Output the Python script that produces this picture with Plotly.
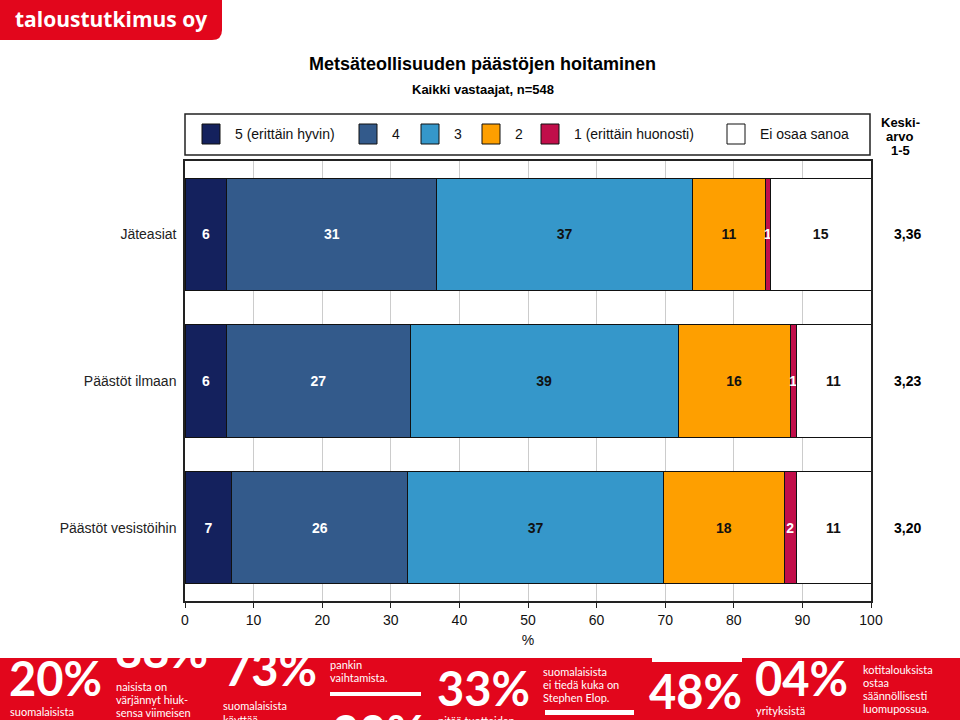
import plotly.graph_objects as go

# ---------------- data ----------------
categories = ["Jäteasiat", "Päästöt ilmaan", "Päästöt vesistöihin"]
v5 = [6.1, 6.1, 6.85]      # 5 (erittäin hyvin)
v4 = [30.6, 26.7, 25.6]    # 4
v3 = [37.3, 39.1, 37.3]    # 3
v2 = [10.6, 16.3, 17.6]    # 2
v1 = [0.75, 0.9, 1.75]     # 1 (erittäin huonosti)
v0 = [14.65, 10.9, 10.9]   # Ei osaa sanoa
means = [3.36, 3.23, 3.20]

series_names = ["5 (erittäin hyvin)", "4", "3", "2", "1 (erittäin huonosti)", "Ei osaa sanoa"]
series_values = [v5, v4, v3, v2, v1, v0]
series_colors = ["#14215d", "#335a8b", "#3597ca", "#fe9f00", "#c10e4a", "#ffffff"]
text_colors = ["#ffffff", "#ffffff", "#111111", "#111111", "#ffffff", "#111111"]

x_ticks = [0, 10, 20, 30, 40, 50, 60, 70, 80, 90, 100]

title = "Metsäteollisuuden päästöjen hoitaminen"
subtitle = "Kaikki vastaajat, n=548"
mean_header_lines = ["Keski-", "arvo", "1-5"]
logo_text = "taloustutkimus oy"

# decorative banner texts (bottom strip)
banner_big = ["20%", "88%", "73%", "20%", "33%", "48%", "04%"]
banner_big_x = [9, 115, 224, 332, 437, 649, 755]
banner_big_y = [684, 656, 674, 738, 694, 697, 684]
banner_small = ["suomalaisista", "naisista on", "värjännyt hiuk-", "sensa viimeisen",
                "suomalaisista", "käyttää", "pankin", "vaihtamista.", "pitää tuotteiden",
                "suomalaisista", "ei tiedä kuka on", "Stephen Elop.", "yrityksistä",
                "kotitalouksista", "ostaa", "säännöllisesti", "luomupossua."]
banner_small_x = [10, 116, 116, 116, 223, 223, 330, 330, 438, 543, 543, 543, 756, 863, 863, 863, 863]
banner_small_y = [713, 688, 701, 714, 707, 721, 666, 679, 722, 673, 686, 699, 712, 671, 684, 697, 710]

# ---------------- layout helpers (pixel -> paper) ----------------
W, H = 960, 720
def px(x):
    return x / W
def py(y):
    return 1 - y / H

FONT = "Liberation Sans, Arial, sans-serif"
BANNER_FONT = "Lato, sans-serif"
RED = "#e2061c"

fig = go.Figure()

for name, vals, col, tcol in zip(series_names, series_values, series_colors, text_colors):
    fig.add_trace(go.Bar(
        y=categories, x=vals, name=name, orientation="h",
        marker=dict(color=col, line=dict(color="#111111", width=1)),
        width=0.765,
        texttemplate="%{x:.0f}", textposition="inside", insidetextanchor="middle",
        textangle=0, constraintext="none",
        textfont=dict(family=FONT, size=14, color=tcol, weight="bold"),
        showlegend=False, hoverinfo="name+x",
        xaxis="x", yaxis="y",
    ))

# banner texts on a separate, clipped subplot
fig.add_trace(go.Scatter(
    x=banner_big_x, y=banner_big_y, text=banner_big, mode="text",
    textposition="middle right",
    textfont=dict(family=BANNER_FONT, size=47, color="white", weight="bold"),
    cliponaxis=True, showlegend=False, hoverinfo="skip", xaxis="x2", yaxis="y2",
))
fig.add_trace(go.Scatter(
    x=banner_small_x, y=banner_small_y, text=banner_small, mode="text",
    textposition="middle right",
    textfont=dict(family=BANNER_FONT, size=11, color="white"),
    cliponaxis=True, showlegend=False, hoverinfo="skip", xaxis="x2", yaxis="y2",
))

shapes = []
annotations = []

# logo
r = 10
logo_path = (f"M {px(0)},{py(0)} L {px(222)},{py(0)} L {px(222)},{py(40 - r)} "
             f"Q {px(222)},{py(40)} {px(222 - r)},{py(40)} L {px(0)},{py(40)} Z")
shapes.append(dict(type="path", path=logo_path, xref="paper", yref="paper",
                   fillcolor=RED, line=dict(width=0), layer="below"))
annotations.append(dict(text=logo_text, x=px(111), y=py(19), xref="paper", yref="paper",
                        showarrow=False, xanchor="center", yanchor="middle",
                        font=dict(family="Open Sans, sans-serif", size=21, color="white", weight="bold")))

# banner background
shapes.append(dict(type="rect", x0=0, x1=1, y0=0, y1=py(658), xref="paper", yref="paper",
                   fillcolor=RED, line=dict(width=0), layer="below"))
# banner white bars
for (x0, y0, x1, y1) in [(330, 692, 421, 696), (545, 710, 634, 715), (652, 655, 742, 662)]:
    shapes.append(dict(type="rect", x0=px(x0), x1=px(x1), y0=py(y1), y1=py(y0),
                       xref="paper", yref="paper", fillcolor="white", line=dict(width=0),
                       layer="above"))

# legend box
shapes.append(dict(type="rect", x0=px(185), x1=px(870), y0=py(155), y1=py(114),
                   xref="paper", yref="paper", line=dict(color="#222222", width=1.5),
                   fillcolor="rgba(0,0,0,0)"))
legend_sq_x = [202, 359, 421, 482, 541, 727]
for name, col, lx in zip(series_names, series_colors, legend_sq_x):
    shapes.append(dict(type="rect", x0=px(lx), x1=px(lx + 18), y0=py(144), y1=py(124),
                       xref="paper", yref="paper", fillcolor=col,
                       line=dict(color="#111111", width=1)))
    annotations.append(dict(text=name, x=px(lx + 31), y=py(134), xref="paper", yref="paper",
                            showarrow=False, xanchor="left", yanchor="middle",
                            font=dict(family=FONT, size=14, color="#111111")))

# title & subtitle
annotations.append(dict(text=title, x=px(482), y=py(64), xref="paper", yref="paper",
                        showarrow=False, xanchor="center", yanchor="middle",
                        font=dict(family=FONT, size=18, color="#000000", weight="bold")))
annotations.append(dict(text=subtitle, x=px(483), y=py(89), xref="paper", yref="paper",
                        showarrow=False, xanchor="center", yanchor="middle",
                        font=dict(family=FONT, size=13, color="#000000", weight="bold")))

# mean header and values
for i, line in enumerate(mean_header_lines):
    annotations.append(dict(text=line, x=px(900), y=py(122 + 14 * i), xref="paper", yref="paper",
                            showarrow=False, xanchor="center", yanchor="middle",
                            font=dict(family=FONT, size=13, color="#000000", weight="bold")))
for cat, m in zip(categories, means):
    annotations.append(dict(text=f"{m:.2f}".replace(".", ","), x=px(907), y=cat,
                            xref="paper", yref="y", showarrow=False,
                            xanchor="center", yanchor="middle",
                            font=dict(family=FONT, size=14, color="#000000", weight="bold")))

fig.update_layout(
    width=W, height=H, autosize=False,
    margin=dict(l=0, r=0, t=0, b=0, pad=0, autoexpand=False),
    paper_bgcolor="white", plot_bgcolor="rgba(0,0,0,0)",
    barmode="stack", bargap=0.2,
    uniformtext=dict(minsize=14, mode="show"),
    shapes=shapes, annotations=annotations,
    xaxis=dict(domain=[px(185), px(871)], range=[0, 100], tickvals=x_ticks,
               automargin=False,
               ticks="outside", ticklen=5, tickcolor="#222222",
               showgrid=True, gridcolor="#cccccc", gridwidth=1,
               showline=True, linecolor="#222222", linewidth=1.5, mirror=True,
               zeroline=False,
               tickfont=dict(family=FONT, size=14, color="#111111"),
               title=dict(text="%", standoff=9, font=dict(family=FONT, size=14, color="#111111")),
               fixedrange=True),
    yaxis=dict(domain=[py(601), py(161)], autorange="reversed",
               automargin=False,
               type="category", categoryorder="array", categoryarray=categories,
               showgrid=False, showline=True, linecolor="#222222", linewidth=1.5,
               mirror=True, ticks="outside", ticklen=4, tickcolor="rgba(0,0,0,0)",
               tickfont=dict(family=FONT, size=14, color="#222222"),
               fixedrange=True),
    xaxis2=dict(domain=[0, 1], range=[0, W], visible=False, fixedrange=True, anchor="y2",
                automargin=False),
    yaxis2=dict(domain=[0, py(658)], range=[H, 658], visible=False, fixedrange=True, anchor="x2",
                automargin=False),
)

fig.write_html(
    "out.html",
    config={"responsive": False, "displayModeBar": False},
    post_script="document.body.style.margin='0';document.body.style.overflow='hidden';",
)
